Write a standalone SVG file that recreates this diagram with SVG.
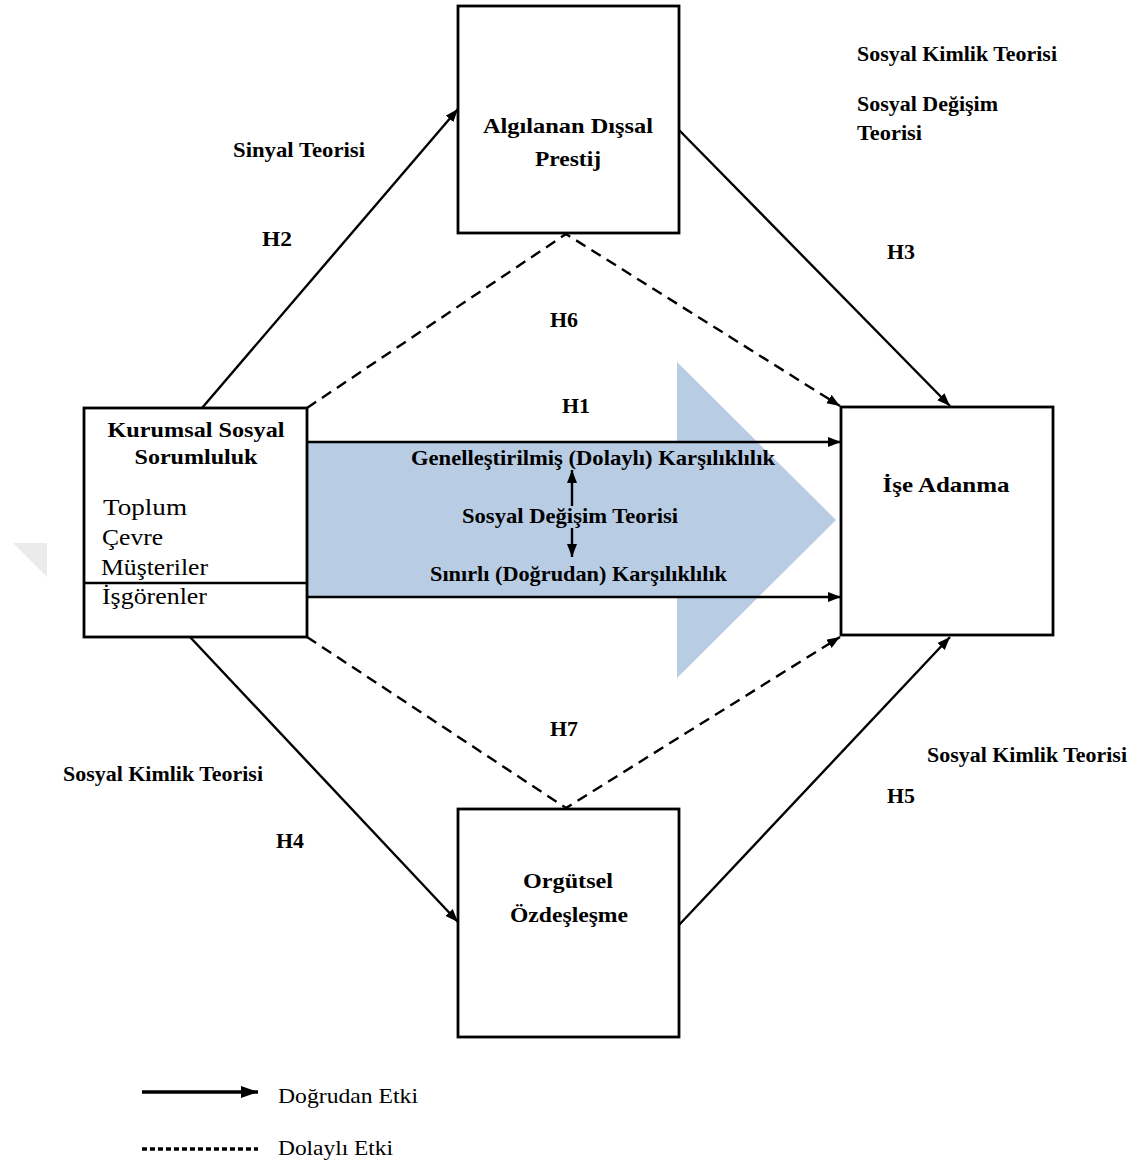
<svg xmlns="http://www.w3.org/2000/svg" width="1143" height="1167" viewBox="0 0 1143 1167">
<style>
.box{fill:#fff;stroke:#000;stroke-width:2.8}
.c{fill:none;stroke:#000;stroke-width:2.4}
.d{fill:none;stroke:#000;stroke-width:2.4;stroke-dasharray:11 7}
text{font-family:"Liberation Serif","Times New Roman",serif;fill:#000}
.b{font-weight:bold;font-size:22px}
.r{font-size:24px}
.m{text-anchor:middle}
.s{font-weight:bold;font-size:20px}
.l{font-size:22px}
</style>
<defs>
<marker id="ah" markerUnits="userSpaceOnUse" markerWidth="15" markerHeight="11" refX="13" refY="5" orient="auto-start-reverse">
<path d="M0,0 L13,5 L0,10 z" fill="#000"/>
</marker>
<marker id="ahl" markerUnits="userSpaceOnUse" markerWidth="20" markerHeight="14" refX="17" refY="6" orient="auto">
<path d="M0,0 L17,6 L0,12 z" fill="#000"/>
</marker>
</defs>
<rect width="1143" height="1167" fill="#fff"/>
<polygon points="13,543 47,543 47,577" fill="#ebebeb"/>
<polygon id="blue-arrow" points="307,443 677,443 677,362 836,520 677,678 677,597 307,597" fill="#b8cce4"/>
<g id="connectors">
<line class="c" x1="202" y1="408" x2="458" y2="109" marker-end="url(#ah)"/>
<line class="c" x1="679" y1="130" x2="950" y2="406" marker-end="url(#ah)"/>
<line class="c" x1="307" y1="442" x2="841" y2="442" marker-end="url(#ah)"/>
<line class="c" x1="307" y1="597" x2="841" y2="597" marker-end="url(#ah)"/>
<line class="c" x1="190" y1="637" x2="458" y2="922" marker-end="url(#ah)"/>
<line class="c" x1="679" y1="925" x2="950" y2="637" marker-end="url(#ah)"/>
<polyline class="d" points="307,408 566,234 840,406" marker-end="url(#ah)"/>
<polyline class="d" points="307,637 566,808 840,637" marker-end="url(#ah)"/>
<line class="c" x1="572" y1="506" x2="572" y2="470" marker-end="url(#ah)"/>
<line class="c" x1="572" y1="528" x2="572" y2="557" marker-end="url(#ah)"/>
</g>
<g id="node-kss">
<rect class="box" x="84" y="408" width="223" height="229"/>
<line x1="84" y1="583" x2="307" y2="583" stroke="#000" stroke-width="2.4"/>
<text class="b m" x="196" y="437" textLength="177" lengthAdjust="spacingAndGlyphs">Kurumsal Sosyal</text>
<text class="b m" x="196" y="464" textLength="123" lengthAdjust="spacingAndGlyphs">Sorumluluk</text>
<text class="r" x="103" y="515" textLength="84" lengthAdjust="spacingAndGlyphs">Toplum</text>
<text class="r" x="102" y="545" textLength="61" lengthAdjust="spacingAndGlyphs">Çevre</text>
<text class="r" x="101" y="575" textLength="107" lengthAdjust="spacingAndGlyphs">Müşteriler</text>
<text class="r" x="102" y="604" textLength="105" lengthAdjust="spacingAndGlyphs">İşgörenler</text>
</g>
<g id="node-apd">
<rect class="box" x="458" y="6" width="221" height="227"/>
<text class="b m" x="568" y="133" textLength="170" lengthAdjust="spacingAndGlyphs">Algılanan Dışsal</text>
<text class="b m" x="568" y="166" textLength="66" lengthAdjust="spacingAndGlyphs">Prestij</text>
</g>
<g id="node-ia">
<rect class="box" x="841" y="407" width="212" height="228"/>
<text class="b m" x="946" y="492" textLength="127" lengthAdjust="spacingAndGlyphs">İşe Adanma</text>
</g>
<g id="node-oo">
<rect class="box" x="458" y="809" width="221" height="228"/>
<text class="b m" x="568" y="888" textLength="90" lengthAdjust="spacingAndGlyphs">Orgütsel</text>
<text class="b m" x="569" y="922" textLength="118" lengthAdjust="spacingAndGlyphs">Özdeşleşme</text>
</g>
<g id="labels">
<text class="b" x="233" y="157" textLength="132" lengthAdjust="spacingAndGlyphs">Sinyal Teorisi</text>
<text class="b" x="262" y="246" textLength="30" lengthAdjust="spacingAndGlyphs">H2</text>
<text class="s" x="857" y="61" textLength="200" lengthAdjust="spacingAndGlyphs">Sosyal Kimlik Teorisi</text>
<text class="s" x="857" y="111" textLength="141" lengthAdjust="spacingAndGlyphs">Sosyal Değişim</text>
<text class="s" x="857" y="140" textLength="65" lengthAdjust="spacingAndGlyphs">Teorisi</text>
<text class="b" x="887" y="259" textLength="28" lengthAdjust="spacingAndGlyphs">H3</text>
<text class="b" x="550" y="327" textLength="28" lengthAdjust="spacingAndGlyphs">H6</text>
<text class="b" x="562" y="413" textLength="28" lengthAdjust="spacingAndGlyphs">H1</text>
<text class="b" x="411" y="465" textLength="364" lengthAdjust="spacingAndGlyphs">Genelleştirilmiş (Dolaylı)  Karşılıklılık</text>
<text class="b" x="462" y="523" textLength="216" lengthAdjust="spacingAndGlyphs">Sosyal Değişim Teorisi</text>
<text class="b" x="430" y="581" textLength="297" lengthAdjust="spacingAndGlyphs">Sınırlı (Doğrudan) Karşılıklılık</text>
<text class="b" x="550" y="736" textLength="28" lengthAdjust="spacingAndGlyphs">H7</text>
<text class="s" x="63" y="781" textLength="200" lengthAdjust="spacingAndGlyphs">Sosyal Kimlik Teorisi</text>
<text class="b" x="276" y="848" textLength="28" lengthAdjust="spacingAndGlyphs">H4</text>
<text class="s" x="927" y="762" textLength="200" lengthAdjust="spacingAndGlyphs">Sosyal Kimlik Teorisi</text>
<text class="b" x="887" y="803" textLength="28" lengthAdjust="spacingAndGlyphs">H5</text>
</g>
<g id="legend">
<line x1="142" y1="1092" x2="258" y2="1092" stroke="#000" stroke-width="3.4" marker-end="url(#ahl)"/>
<text class="l" x="278" y="1103" textLength="140" lengthAdjust="spacingAndGlyphs">Doğrudan Etki</text>
<line x1="142" y1="1149" x2="258" y2="1149" stroke="#000" stroke-width="3.4" stroke-dasharray="5 3"/>
<text class="l" x="278" y="1155" textLength="115" lengthAdjust="spacingAndGlyphs">Dolaylı Etki</text>
</g>
</svg>
